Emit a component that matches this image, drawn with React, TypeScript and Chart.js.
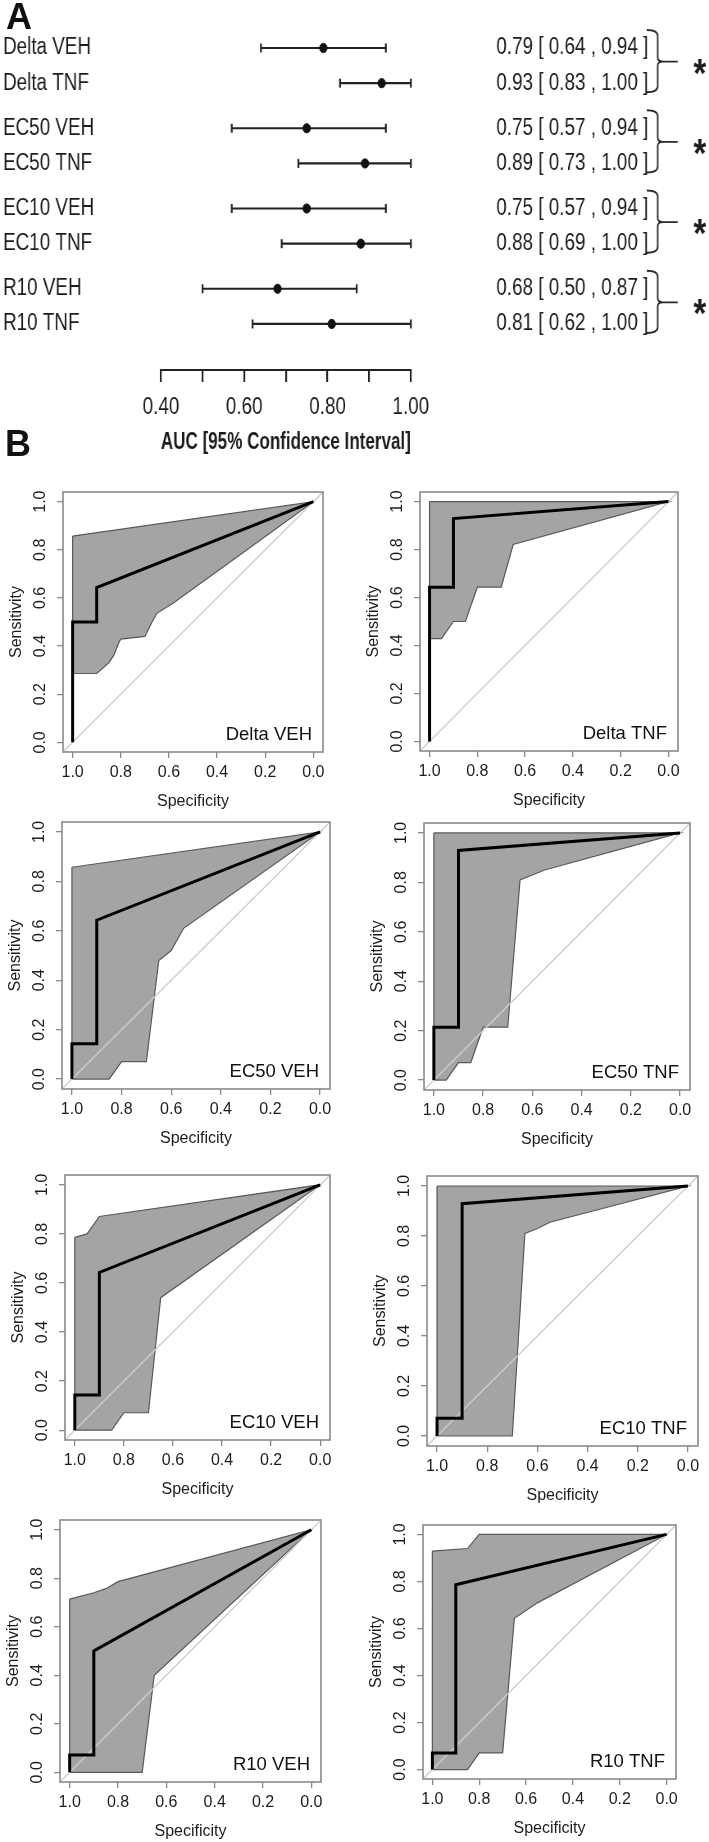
import React, { useEffect, useRef } from 'react';
import { Chart, registerables } from 'chart.js';

Chart.register(...registerables);

// ---------------- Panel A data ----------------
const forestLabels = ['Delta VEH', 'Delta TNF', 'EC50 VEH', 'EC50 TNF', 'EC10 VEH', 'EC10 TNF', 'R10 VEH', 'R10 TNF'];
const aucValues = [0.79, 0.93, 0.75, 0.89, 0.75, 0.88, 0.68, 0.81];
const ciLower = [0.64, 0.83, 0.57, 0.73, 0.57, 0.69, 0.5, 0.62];
const ciUpper = [0.94, 1.0, 0.94, 1.0, 0.94, 1.0, 0.87, 1.0];
const aucTicks = [0.4, 0.5, 0.6, 0.7, 0.8, 0.9, 1.0];
const aucTickLabels = ['0.40', '', '0.60', '', '0.80', '', '1.00'];
const pairSignificance = ['*', '*', '*', '*'];

// ---------------- Panel B data (specificity, sensitivity) ----------------
const rocTicks = [1.0, 0.8, 0.6, 0.4, 0.2, 0.0];

const deltaVehRoc = [[1, 0], [1, 0.5], [0.9, 0.5], [0.9, 0.643], [0, 1]];
const deltaVehUpper = [[1, 0.857], [0, 1]];
const deltaVehLower = [[1, 0.286], [0.9, 0.286], [0.85, 0.33], [0.83, 0.36], [0.81, 0.41], [0.8, 0.429], [0.7, 0.44], [0.67, 0.5], [0.65, 0.536], [0.58, 0.58], [0, 1]];

const deltaTnfRoc = [[1, 0], [1, 0.643], [0.9, 0.643], [0.9, 0.929], [0, 1]];
const deltaTnfUpper = [[1, 1], [0, 1]];
const deltaTnfLower = [[1, 0.429], [0.95, 0.429], [0.9, 0.5], [0.85, 0.5], [0.8, 0.643], [0.7, 0.643], [0.65, 0.821], [0, 1]];

const ec50VehRoc = [[1, 0], [1, 0.143], [0.9, 0.143], [0.9, 0.643], [0, 1]];
const ec50VehUpper = [[1, 0.857], [0, 1]];
const ec50VehLower = [[1, 0], [0.85, 0], [0.8, 0.071], [0.7, 0.071], [0.65, 0.48], [0.6, 0.52], [0.55, 0.61], [0, 1]];

const ec50TnfRoc = [[1, 0], [1, 0.214], [0.9, 0.214], [0.9, 0.929], [0, 1]];
const ec50TnfUpper = [[1, 1], [0, 1]];
const ec50TnfLower = [[1, 0], [0.95, 0], [0.9, 0.071], [0.85, 0.071], [0.8, 0.214], [0.7, 0.214], [0.65, 0.81], [0.55, 0.85], [0, 1]];

const ec10VehRoc = [[1, 0], [1, 0.143], [0.9, 0.143], [0.9, 0.643], [0, 1]];
const ec10VehUpper = [[1, 0.786], [0.95, 0.8], [0.9, 0.871], [0, 1]];
const ec10VehLower = [[1, 0], [0.85, 0], [0.8, 0.071], [0.7, 0.071], [0.65, 0.54], [0, 1]];

const ec10TnfRoc = [[1, 0], [1, 0.071], [0.9, 0.071], [0.9, 0.929], [0, 1]];
const ec10TnfUpper = [[1, 1], [0, 1]];
const ec10TnfLower = [[1, 0], [0.7, 0], [0.65, 0.81], [0.6, 0.83], [0.55, 0.855], [0, 1]];

const r10VehRoc = [[1, 0], [1, 0.071], [0.9, 0.071], [0.9, 0.5], [0, 1]];
const r10VehUpper = [[1, 0.714], [0.9, 0.74], [0.85, 0.757], [0.8, 0.786], [0, 1]];
const r10VehLower = [[1, 0], [0.7, 0], [0.65, 0.4], [0, 1]];

const r10TnfRoc = [[1, 0], [1, 0.071], [0.9, 0.071], [0.9, 0.786], [0, 1]];
const r10TnfUpper = [[1, 0.929], [0.85, 0.94], [0.8, 1], [0, 1]];
const r10TnfLower = [[1, 0], [0.85, 0], [0.8, 0.071], [0.7, 0.071], [0.65, 0.643], [0.55, 0.71], [0, 1]];

// ---------------- Styles / layout ----------------
const SANS = '"Liberation Sans", Arial, Helvetica, sans-serif';
const INK = '#1c1c1c';
const FRAME = '#8a8a8a';
const BAND_FILL = '#a4a4a4';
const BAND_EDGE = '#595959';
const DIAG = '#cdcdcd';
const GROUP_GAP = 0.28;
const AXIS_PAD = 0.04;
// panel A is drawn on a horizontally condensed canvas (narrow lettering as in the original)
const SX = 0.82;

const forestRows = forestLabels.map((_, i) => i + Math.floor(i / 2) * GROUP_GAP);
const ciTexts = aucValues.map((v, i) => `${v.toFixed(2)} [ ${ciLower[i].toFixed(2)} , ${ciUpper[i].toFixed(2)} ]`);

const rocPanels = [
  { title: 'Delta VEH', roc: deltaVehRoc, upper: deltaVehUpper, lower: deltaVehLower, box: { L: 63, T: 492, R: 323, B: 752 } },
  { title: 'Delta TNF', roc: deltaTnfRoc, upper: deltaTnfUpper, lower: deltaTnfLower, box: { L: 420, T: 492, R: 678, B: 751 } },
  { title: 'EC50 VEH', roc: ec50VehRoc, upper: ec50VehUpper, lower: ec50VehLower, box: { L: 62, T: 822, R: 330, B: 1089 } },
  { title: 'EC50 TNF', roc: ec50TnfRoc, upper: ec50TnfUpper, lower: ec50TnfLower, box: { L: 424, T: 823, R: 690, B: 1090 } },
  { title: 'EC10 VEH', roc: ec10VehRoc, upper: ec10VehUpper, lower: ec10VehLower, box: { L: 65, T: 1175, R: 330, B: 1440 } },
  { title: 'EC10 TNF', roc: ec10TnfRoc, upper: ec10TnfUpper, lower: ec10TnfLower, box: { L: 427, T: 1176, R: 698, B: 1446 } },
  { title: 'R10 VEH', roc: r10VehRoc, upper: r10VehUpper, lower: r10VehLower, box: { L: 60, T: 1520, R: 321, B: 1782 } },
  { title: 'R10 TNF', roc: r10TnfRoc, upper: r10TnfUpper, lower: r10TnfLower, box: { L: 423, T: 1525, R: 676, B: 1779 } },
];

function zeroPad(s: any) {
  s.paddingTop = 0; s.paddingBottom = 0; s.paddingLeft = 0; s.paddingRight = 0;
}

function ForestPanel() {
  const ref = useRef<HTMLCanvasElement>(null);
  const DISPLAY_W = 709, H = 465;
  const W = Math.round(DISPLAY_W / SX);
  useEffect(() => {
    const ix = (x: number) => x / SX;
    const AXIS_Y = 370, TOP = 15, LEFT = ix(3);
    const PLOT_L = ix(161), PLOT_R = ix(411);
    const pxPerUnit = 35.2, firstRowPx = 48;
    const yMin = -(firstRowPx - TOP) / pxPerUnit;
    const yMax = yMin + (AXIS_Y - TOP) / pxPerUnit;
    const fontSize = 23, boldSize = 23.5;
    const font = { family: SANS, size: fontSize };

    const bracketPlugin = {
      id: 'pairBrackets',
      afterDatasetsDraw(chart: any) {
        const { ctx } = chart;
        const ys = chart.scales.y;
        ctx.save();
        ctx.strokeStyle = '#2a2a2a';
        ctx.lineWidth = 1.9;
        ctx.fillStyle = INK;
        pairSignificance.forEach((mark, g) => {
          const a = ys.getPixelForValue(forestRows[2 * g]);
          const b = ys.getPixelForValue(forestRows[2 * g + 1]);
          const top = a - 18, bot = b + 9, tip = (a + b) / 2 - 4;
          const xh = ix(647), xv = ix(658), xt = ix(678), r = 6;
          ctx.beginPath();
          ctx.moveTo(xh, top);
          ctx.quadraticCurveTo(xv, top, xv, top + r);
          ctx.lineTo(xv, tip - 4);
          ctx.quadraticCurveTo(xv, tip, xv + 6, tip);
          ctx.lineTo(xt, tip);
          ctx.moveTo(xv + 6, tip);
          ctx.quadraticCurveTo(xv, tip, xv, tip + 4);
          ctx.lineTo(xv, bot - r);
          ctx.quadraticCurveTo(xv, bot, xh, bot);
          ctx.stroke();
          ctx.font = `bold 40px ${SANS}`;
          ctx.textAlign = 'center';
          ctx.textBaseline = 'alphabetic';
          ctx.fillText(mark, ix(700), tip + 2 + 23);
        });
        ctx.restore();
      },
    };

    const ciSets = forestLabels.map((_, i) => ({
      data: [{ x: ciLower[i], y: forestRows[i] }, { x: ciUpper[i], y: forestRows[i] }],
      borderColor: '#222',
      borderWidth: 2.2,
      pointStyle: 'line',
      pointRotation: 90,
      pointRadius: 4.5,
      pointBorderWidth: 2.2,
      pointBorderColor: '#222',
      pointBackgroundColor: '#222',
      clip: false,
      fill: false,
      order: 2,
    }));
    const pointSet = {
      data: aucValues.map((v, i) => ({ x: v, y: forestRows[i] })),
      showLine: false,
      pointStyle: 'circle',
      pointRadius: 4.6,
      pointBackgroundColor: '#111',
      pointBorderColor: '#111',
      pointBorderWidth: 1,
      clip: false,
      order: 1,
    };

    const yCommon = {
      type: 'linear',
      reverse: true,
      min: yMin,
      max: yMax,
      afterBuildTicks: (s: any) => { s.ticks = forestRows.map((v) => ({ value: v })); },
      grid: { display: false },
      border: { display: false },
    };

    const chart = new Chart(ref.current as HTMLCanvasElement, {
      type: 'line',
      data: { datasets: [...ciSets, pointSet] as any },
      plugins: [bracketPlugin],
      options: {
        animation: false,
        responsive: false,
        devicePixelRatio: 1,
        events: [],
        layout: { padding: { left: LEFT, top: TOP, right: 0, bottom: 0 } },
        plugins: { legend: { display: false }, tooltip: { enabled: false } },
        scales: {
          x: {
            type: 'linear',
            position: 'bottom',
            min: aucTicks[0],
            max: aucTicks[aucTicks.length - 1],
            afterBuildTicks: (s: any) => { s.ticks = aucTicks.map((v) => ({ value: v })); },
            afterFit: (s: any) => { s.height = H - AXIS_Y; zeroPad(s); },
            ticks: {
              autoSkip: false,
              maxRotation: 0,
              callback: (_v: any, i: number) => aucTickLabels[i],
              font,
              color: INK,
              padding: 26 - 0.6 * fontSize,
            },
            grid: { drawOnChartArea: false, drawTicks: true, tickLength: 12, color: '#222', lineWidth: 2.2 },
            border: { display: true, color: '#222', width: 2 },
            title: {
              display: true,
              text: 'AUC [95% Confidence Interval]',
              color: INK,
              font: { family: SANS, size: boldSize, weight: 'bold' },
              padding: { top: 0, bottom: 22 - 0.6 * boldSize },
            },
          },
          y: {
            ...yCommon,
            position: 'left',
            afterFit: (s: any) => { s.width = PLOT_L - LEFT; zeroPad(s); },
            ticks: { autoSkip: false, crossAlign: 'far', font, color: INK, callback: (_v: any, i: number) => forestLabels[i] },
          },
          y2: {
            ...yCommon,
            position: 'right',
            afterFit: (s: any) => { s.width = W - PLOT_R; zeroPad(s); },
            ticks: { autoSkip: false, crossAlign: 'near', padding: ix(490) - PLOT_R, font, color: INK, callback: (_v: any, i: number) => ciTexts[i] },
          },
        },
      } as any,
    });
    return () => chart.destroy();
  }, []);
  return <canvas ref={ref} width={W} height={H} style={{ position: 'absolute', left: 0, top: 0, width: DISPLAY_W, height: H }} />;
}

type RocProps = { title: string; roc: number[][]; upper: number[][]; lower: number[][]; box: { L: number; T: number; R: number; B: number } };

function RocChart({ title, roc, upper, lower, box }: RocProps) {
  const ref = useRef<HTMLCanvasElement>(null);
  const M_L = 62, M_T = 12, M_R = 12, M_B = 62;
  const width = box.R - box.L + M_L + M_R;
  const height = box.B - box.T + M_T + M_B;
  useEffect(() => {
    const toXY = (p: number[]) => ({ x: p[0], y: p[1] });
    const band = [...upper, ...lower.slice().reverse(), upper[0]].map(toXY);
    const lo = -AXIS_PAD, hi = 1 + AXIS_PAD;
    const chance = [{ x: hi, y: 1 - hi }, { x: lo, y: 1 - lo }];
    const tickFont = { family: SANS, size: 16 };

    const decor = {
      id: 'rocDecor',
      afterDatasetsDraw(chart: any) {
        const { ctx, chartArea: a } = chart;
        ctx.save();
        ctx.strokeStyle = FRAME;
        ctx.lineWidth = 1.6;
        ctx.strokeRect(a.left, a.top, a.right - a.left, a.bottom - a.top);
        ctx.fillStyle = '#111';
        ctx.font = `18.5px ${SANS}`;
        ctx.textAlign = 'right';
        ctx.textBaseline = 'middle';
        ctx.fillText(title, a.right - 11, a.bottom - 17);
        ctx.restore();
      },
    };

    const chart = new Chart(ref.current as HTMLCanvasElement, {
      type: 'line',
      data: {
        datasets: [
          { data: band, fill: 'shape', backgroundColor: BAND_FILL, borderColor: BAND_EDGE, borderWidth: 1.2, pointRadius: 0, tension: 0, order: 3 },
          { data: chance, fill: false, borderColor: DIAG, borderWidth: 1.3, pointRadius: 0, order: 2 },
          { data: roc.map(toXY), fill: false, borderColor: '#000', borderWidth: 3, pointRadius: 0, order: 1 },
        ] as any,
      },
      plugins: [decor],
      options: {
        animation: false,
        responsive: false,
        devicePixelRatio: 1,
        events: [],
        layout: { padding: { left: 0, top: M_T, right: M_R, bottom: 0 } },
        plugins: { legend: { display: false }, tooltip: { enabled: false } },
        scales: {
          x: {
            type: 'linear',
            reverse: true,
            min: lo,
            max: hi,
            afterBuildTicks: (s: any) => { s.ticks = rocTicks.map((v) => ({ value: v })); },
            afterFit: (s: any) => { s.height = M_B; zeroPad(s); },
            ticks: { autoSkip: false, maxRotation: 0, font: tickFont, color: INK, padding: 5, callback: (v: any) => Number(v).toFixed(1) },
            grid: { drawOnChartArea: false, drawTicks: true, tickLength: 6, color: FRAME, lineWidth: 1.3 },
            border: { display: false },
            title: { display: true, text: 'Specificity', color: INK, font: tickFont, padding: { top: 0, bottom: 2.4 } },
          },
          y: {
            type: 'linear',
            min: lo,
            max: hi,
            afterBuildTicks: (s: any) => { s.ticks = rocTicks.map((v) => ({ value: v })); },
            afterFit: (s: any) => { s.width = M_L; zeroPad(s); },
            ticks: { autoSkip: false, minRotation: 90, maxRotation: 90, crossAlign: 'center', font: tickFont, color: INK, padding: 4.9, callback: (v: any) => Number(v).toFixed(1) },
            grid: { drawOnChartArea: false, drawTicks: true, tickLength: 6, color: FRAME, lineWidth: 1.3 },
            border: { display: false },
            title: { display: true, text: 'Sensitivity', color: INK, font: tickFont, padding: { top: 5.5, bottom: 0 } },
          },
        },
      } as any,
    });
    return () => chart.destroy();
  }, []);
  return (
    <canvas
      ref={ref}
      width={width}
      height={height}
      style={{ position: 'absolute', left: box.L - M_L, top: box.T - M_T, width, height }}
    />
  );
}

export default function App() {
  const letter = { position: 'absolute' as const, font: `bold 36px ${SANS}`, lineHeight: '36px', color: '#111' };
  return (
    <div style={{ position: 'absolute', left: 0, top: 0, width: 709, height: 1842, background: '#fff', overflow: 'hidden' }}>
      <ForestPanel />
      <div style={{ ...letter, left: 6, top: -1 }}>A</div>
      <div style={{ ...letter, left: 5, top: 426 }}>B</div>
      {rocPanels.map((p) => (
        <RocChart key={p.title} {...p} />
      ))}
    </div>
  );
}
